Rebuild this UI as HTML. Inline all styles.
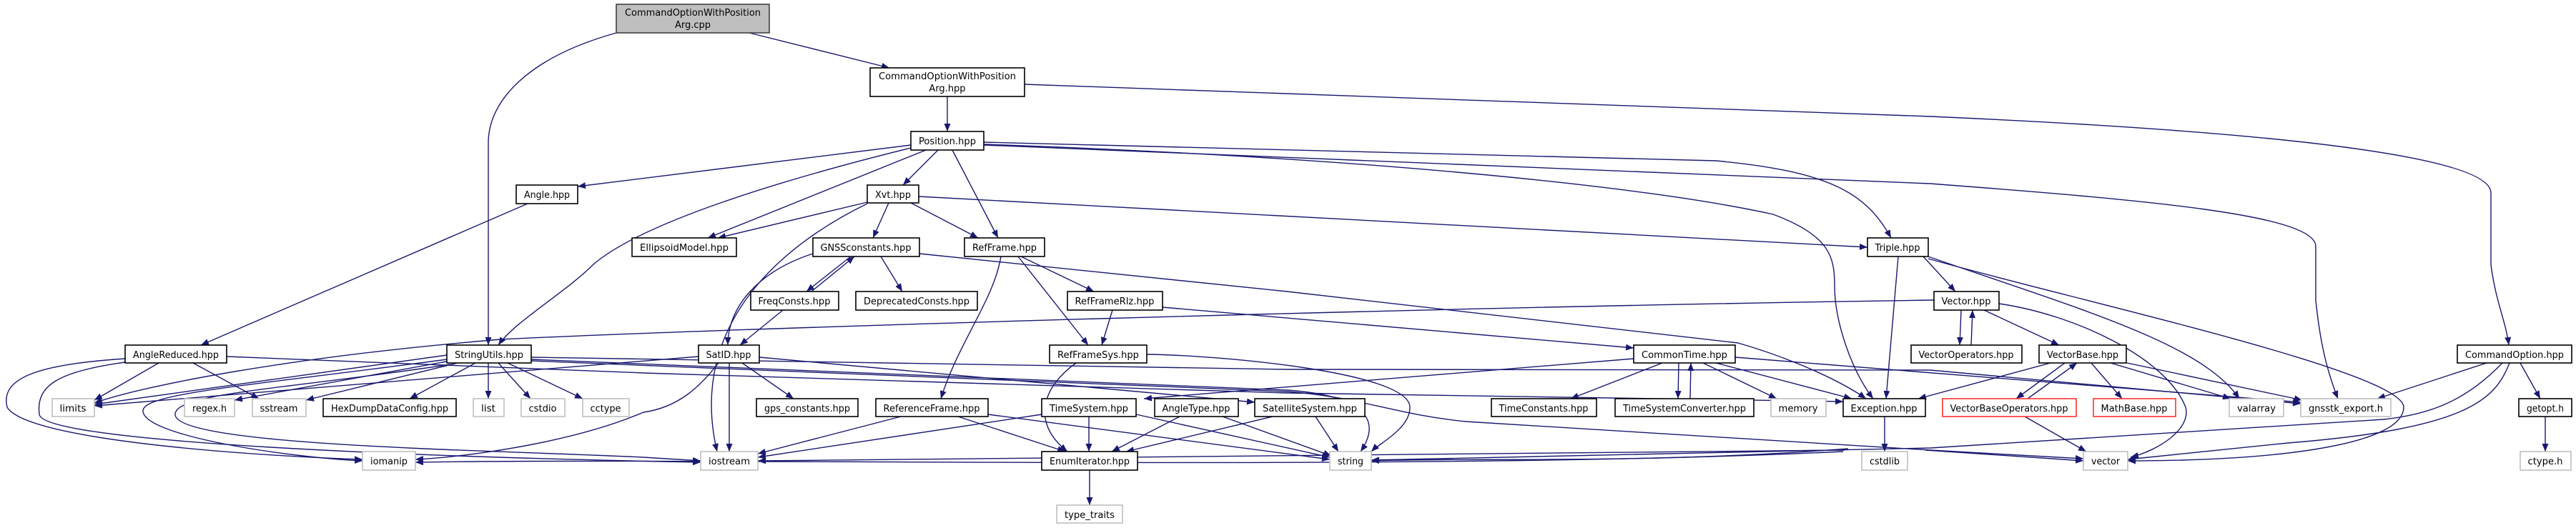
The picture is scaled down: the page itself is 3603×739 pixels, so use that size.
<!DOCTYPE html>
<html><head><meta charset="utf-8"><style>
html,body{margin:0;padding:0;background:#fff;width:3603px;height:739px;overflow:hidden}
svg{display:block}
text{font-family:"DejaVu Sans","Liberation Sans",sans-serif;font-size:13px;fill:#000;text-anchor:middle}
.e{fill:none;stroke:#191970;stroke-width:1.4;marker-end:url(#a)}
.n{fill:#fff;stroke:#000;stroke-width:1.6}
.g{fill:#fff;stroke:#bfbfbf;stroke-width:1.6}
.r{fill:#fff;stroke:#ff3030;stroke-width:1.6}
</style></head><body>
<svg width="3603" height="739" viewBox="0 0 3603 739" xmlns="http://www.w3.org/2000/svg">
<defs><marker id="a" markerUnits="userSpaceOnUse" markerWidth="11" markerHeight="9" refX="11" refY="4.5" orient="auto"><path d="M0,0 L11,4.5 L0,9 z" fill="#191970"/></marker></defs>
<g>
<path class="e" d="M1048,46 L1244,95"/>
<path class="e" d="M862,46 C740,80 683,140 683,200 L683,483"/>
<path class="e" d="M1325,135 L1325,184"/>
<path class="e" d="M1433,118 L2700,163 C3200,185 3484,220 3484,270 L3484,370 C3490,420 3505,450 3509,483"/>
<path class="e" d="M1274,203 L808,261"/>
<path class="e" d="M1274,207 C1100,250 900,310 830,370 C790,410 720,450 697,483"/>
<path class="e" d="M1295,210 L990,333"/>
<path class="e" d="M1312,210 L1263,259"/>
<path class="e" d="M1332,210 L1396,333"/>
<path class="e" d="M1376,199 L2400,225 C2560,240 2610,270 2645,333"/>
<path class="e" d="M1376,202 C1900,220 2300,260 2480,300 C2560,330 2566,360 2566,400 C2566,450 2590,520 2620,558"/>
<path class="e" d="M1376,203 L2700,257 C3000,280 3239,300 3239,345 L3239,420 C3245,480 3255,520 3270,558"/>
<path class="e" d="M1213,283 L1004,333"/>
<path class="e" d="M1243,284 L1221,333"/>
<path class="e" d="M1274,284 L1368,333"/>
<path class="e" d="M1285,275 L2612,346"/>
<path class="e" d="M1213,285 C1100,340 960,450 1003,632"/>
<path class="e" d="M1190,359 L1128,408"/>
<path class="e" d="M1135,408 L1195,359"/>
<path class="e" d="M1232,359 L1262,408"/>
<path class="e" d="M1137,355 C1060,380 1018,430 1018,483"/>
<path class="e" d="M1286,355 L1800,408 L2431,480 C2500,500 2570,530 2610,558"/>
<path class="e" d="M1428,359 L1530,408"/>
<path class="e" d="M1424,359 L1522,483"/>
<path class="e" d="M1400,359 C1390,420 1340,480 1316,558"/>
<path class="e" d="M1556,434 L1541,483"/>
<path class="e" d="M1626,430 L2285,487"/>
<path class="e" d="M1505,508 C1460,540 1440,590 1493,632"/>
<path class="e" d="M1604,496 C1700,497 1972,520 1972,570 C1972,600 1930,620 1918,632"/>
<path class="e" d="M1095,434 L1035,483"/>
<path class="e" d="M1020,508 L1020,632"/>
<path class="e" d="M1038,508 L1110,558"/>
<path class="e" d="M1005,508 C980,540 950,570 900,577 C800,620 650,640 581,643"/>
<path class="e" d="M1062,500 L1755,563"/>
<path class="e" d="M977,499 L132,568"/>
<path class="e" d="M625,497 L132,566"/>
<path class="e" d="M630,505 L328,560"/>
<path class="e" d="M640,508 L428,560"/>
<path class="e" d="M665,508 L573,558"/>
<path class="e" d="M683,508 L683,558"/>
<path class="e" d="M697,508 L742,558"/>
<path class="e" d="M710,508 L815,558"/>
<path class="e" d="M630,510 C400,545 245,550 245,580 C245,625 700,630 900,640 L980,645"/>
<path class="e" d="M625,503 C350,540 200,550 200,575 C200,610 400,640 507,645"/>
<path class="e" d="M175,502 C50,510 0,530 10,570 C40,620 400,640 507,643"/>
<path class="e" d="M175,507 C80,520 50,540 55,580 C60,620 600,640 980,647"/>
<path class="e" d="M222,508 L132,560"/>
<path class="e" d="M270,508 L362,558"/>
<path class="e" d="M738,285 L281,483"/>
<path class="e" d="M317,499 L900,522 L1800,550 L2578,562"/>
<path class="e" d="M743,500 L1800,517 L2700,518 L3218,565"/>
<path class="e" d="M743,505 L1800,548 C1900,555 1950,580 2050,590 L2700,630 L2914,642"/>
<path class="e" d="M743,503 L1800,546 C1930,555 1925,600 1903,632"/>
<path class="e" d="M2578,632 C2000,660 1000,640 581,647"/>
<path class="e" d="M2580,630 L1060,645"/>
<path class="e" d="M2585,628 C2300,650 2050,640 1918,645"/>
<path class="e" d="M2693,630 L2914,645"/>
<path class="e" d="M2636,583 L2636,632"/>
<path class="e" d="M1457,580 L1060,640"/>
<path class="e" d="M1523,583 L1523,632"/>
<path class="e" d="M1589,580 L1860,640"/>
<path class="e" d="M1650,583 L1555,632"/>
<path class="e" d="M1710,583 L1862,638"/>
<path class="e" d="M1780,583 L1575,632"/>
<path class="e" d="M1840,583 L1872,632"/>
<path class="e" d="M1260,583 L1060,635"/>
<path class="e" d="M1340,583 L1490,632"/>
<path class="e" d="M1382,580 L1860,643"/>
<path class="e" d="M1524,658 L1524,707"/>
<path class="e" d="M2325,508 L2197,558"/>
<path class="e" d="M2348,508 L2347,558"/>
<path class="e" d="M2364,558 L2365,508"/>
<path class="e" d="M2382,508 L2485,558"/>
<path class="e" d="M2400,508 L2590,558"/>
<path class="e" d="M2285,502 L1600,558"/>
<path class="e" d="M2427,500 L3218,563"/>
<path class="e" d="M2743,434 L2741,483"/>
<path class="e" d="M2757,483 L2759,434"/>
<path class="e" d="M2775,434 L2880,483"/>
<path class="e" d="M2796,425 C2900,440 3030,500 3057,570 C3065,600 3020,630 2980,640"/>
<path class="e" d="M2705,420 C2000,430 1000,460 700,475 C400,500 200,540 132,564"/>
<path class="e" d="M2690,359 L2735,408"/>
<path class="e" d="M2655,359 L2638,558"/>
<path class="e" d="M2697,359 C2900,430 3080,480 3132,558"/>
<path class="e" d="M2697,362 C2900,420 3362,520 3362,570 C3362,620 3200,645 2976,645"/>
<path class="e" d="M2888,508 L2820,558"/>
<path class="e" d="M2836,558 L2905,508"/>
<path class="e" d="M2925,508 L2968,558"/>
<path class="e" d="M2952,508 L3120,558"/>
<path class="e" d="M2975,508 L3220,560"/>
<path class="e" d="M2868,508 L2683,558"/>
<path class="e" d="M2832,583 L2918,632"/>
<path class="e" d="M3478,508 L3325,558"/>
<path class="e" d="M3525,508 L3553,558"/>
<path class="e" d="M3510,508 C3490,560 3450,600 3200,620 L2976,643"/>
<path class="e" d="M3500,508 C3450,560 3400,580 3334,587 L2700,627 L1918,644"/>
<path class="e" d="M3560,583 L3560,632"/>
</g>
<g>
<rect x="862" y="6" width="214" height="40" fill="#bfbfbf" stroke="#404040" stroke-width="1.6"/>
<text x="969" y="22" textLength="190" lengthAdjust="spacingAndGlyphs">CommandOptionWithPosition</text>
<text x="969" y="39">Arg.cpp</text>
<rect class="n" x="1217" y="95" width="216" height="40"/>
<text x="1325" y="111" textLength="192" lengthAdjust="spacingAndGlyphs">CommandOptionWithPosition</text>
<text x="1325" y="128">Arg.hpp</text>
</g>
<g id="nodes"></g>
<g>
<rect class="n" x="1274" y="184" width="102" height="26"/><text x="1325" y="202" textLength="80" lengthAdjust="spacingAndGlyphs">Position.hpp</text>
<rect class="n" x="722" y="259" width="86" height="26"/><text x="765" y="277" textLength="64" lengthAdjust="spacingAndGlyphs">Angle.hpp</text>
<rect class="n" x="1213" y="259" width="72" height="25"/><text x="1249" y="277" textLength="50" lengthAdjust="spacingAndGlyphs">Xvt.hpp</text>
<rect class="n" x="884" y="333" width="146" height="26"/><text x="957" y="351" textLength="124" lengthAdjust="spacingAndGlyphs">EllipsoidModel.hpp</text>
<rect class="n" x="1137" y="333" width="149" height="26"/><text x="1211" y="351" textLength="127" lengthAdjust="spacingAndGlyphs">GNSSconstants.hpp</text>
<rect class="n" x="1349" y="333" width="112" height="26"/><text x="1405" y="351" textLength="90" lengthAdjust="spacingAndGlyphs">RefFrame.hpp</text>
<rect class="n" x="2612" y="333" width="85" height="26"/><text x="2654" y="351" textLength="63" lengthAdjust="spacingAndGlyphs">Triple.hpp</text>
<rect class="n" x="1050" y="408" width="123" height="26"/><text x="1111" y="426" textLength="101" lengthAdjust="spacingAndGlyphs">FreqConsts.hpp</text>
<rect class="n" x="1197" y="408" width="170" height="26"/><text x="1282" y="426" textLength="148" lengthAdjust="spacingAndGlyphs">DeprecatedConsts.hpp</text>
<rect class="n" x="1493" y="408" width="133" height="26"/><text x="1559" y="426" textLength="111" lengthAdjust="spacingAndGlyphs">RefFrameRlz.hpp</text>
<rect class="n" x="2705" y="408" width="91" height="26"/><text x="2750" y="426" textLength="69" lengthAdjust="spacingAndGlyphs">Vector.hpp</text>
<rect class="n" x="175" y="483" width="142" height="25"/><text x="246" y="501" textLength="120" lengthAdjust="spacingAndGlyphs">AngleReduced.hpp</text>
<rect class="n" x="625" y="483" width="118" height="25"/><text x="684" y="501" textLength="96" lengthAdjust="spacingAndGlyphs">StringUtils.hpp</text>
<rect class="n" x="977" y="483" width="85" height="25"/><text x="1019" y="501" textLength="63" lengthAdjust="spacingAndGlyphs">SatID.hpp</text>
<rect class="n" x="1468" y="483" width="136" height="25"/><text x="1536" y="501" textLength="114" lengthAdjust="spacingAndGlyphs">RefFrameSys.hpp</text>
<rect class="n" x="2285" y="483" width="142" height="25"/><text x="2356" y="501" textLength="120" lengthAdjust="spacingAndGlyphs">CommonTime.hpp</text>
<rect class="n" x="2673" y="483" width="155" height="25"/><text x="2750" y="501" textLength="133" lengthAdjust="spacingAndGlyphs">VectorOperators.hpp</text>
<rect class="n" x="2852" y="483" width="122" height="25"/><text x="2913" y="501" textLength="100" lengthAdjust="spacingAndGlyphs">VectorBase.hpp</text>
<rect class="n" x="3437" y="483" width="160" height="25"/><text x="3517" y="501" textLength="138" lengthAdjust="spacingAndGlyphs">CommandOption.hpp</text>
<rect class="g" x="73" y="558" width="59" height="25"/><text x="102" y="576" textLength="37" lengthAdjust="spacingAndGlyphs">limits</text>
<rect class="g" x="258" y="558" width="70" height="25"/><text x="293" y="576" textLength="48" lengthAdjust="spacingAndGlyphs">regex.h</text>
<rect class="g" x="353" y="558" width="75" height="25"/><text x="390" y="576" textLength="53" lengthAdjust="spacingAndGlyphs">sstream</text>
<rect class="n" x="452" y="558" width="186" height="25"/><text x="545" y="576" textLength="164" lengthAdjust="spacingAndGlyphs">HexDumpDataConfig.hpp</text>
<rect class="g" x="662" y="558" width="43" height="25"/><text x="683" y="576" textLength="20" lengthAdjust="spacingAndGlyphs">list</text>
<rect class="g" x="729" y="558" width="61" height="25"/><text x="759" y="576" textLength="39" lengthAdjust="spacingAndGlyphs">cstdio</text>
<rect class="g" x="815" y="558" width="65" height="25"/><text x="847" y="576" textLength="43" lengthAdjust="spacingAndGlyphs">cctype</text>
<rect class="n" x="1058" y="558" width="142" height="25"/><text x="1129" y="576" textLength="120" lengthAdjust="spacingAndGlyphs">gps_constants.hpp</text>
<rect class="n" x="1225" y="558" width="157" height="25"/><text x="1303" y="576" textLength="135" lengthAdjust="spacingAndGlyphs">ReferenceFrame.hpp</text>
<rect class="n" x="1457" y="558" width="132" height="25"/><text x="1523" y="576" textLength="110" lengthAdjust="spacingAndGlyphs">TimeSystem.hpp</text>
<rect class="n" x="1615" y="558" width="117" height="25"/><text x="1673" y="576" textLength="95" lengthAdjust="spacingAndGlyphs">AngleType.hpp</text>
<rect class="n" x="1755" y="558" width="154" height="25"/><text x="1832" y="576" textLength="132" lengthAdjust="spacingAndGlyphs">SatelliteSystem.hpp</text>
<rect class="n" x="2086" y="558" width="147" height="25"/><text x="2159" y="576" textLength="125" lengthAdjust="spacingAndGlyphs">TimeConstants.hpp</text>
<rect class="n" x="2259" y="558" width="194" height="25"/><text x="2356" y="576" textLength="172" lengthAdjust="spacingAndGlyphs">TimeSystemConverter.hpp</text>
<rect class="g" x="2477" y="558" width="77" height="25"/><text x="2515" y="576" textLength="55" lengthAdjust="spacingAndGlyphs">memory</text>
<rect class="n" x="2578" y="558" width="115" height="25"/><text x="2635" y="576" textLength="93" lengthAdjust="spacingAndGlyphs">Exception.hpp</text>
<rect class="r" x="2717" y="558" width="187" height="25"/><text x="2810" y="576" textLength="165" lengthAdjust="spacingAndGlyphs">VectorBaseOperators.hpp</text>
<rect class="r" x="2928" y="558" width="115" height="25"/><text x="2985" y="576" textLength="93" lengthAdjust="spacingAndGlyphs">MathBase.hpp</text>
<rect class="g" x="3118" y="558" width="76" height="25"/><text x="3156" y="576" textLength="54" lengthAdjust="spacingAndGlyphs">valarray</text>
<rect class="g" x="3218" y="558" width="126" height="25"/><text x="3281" y="576" textLength="104" lengthAdjust="spacingAndGlyphs">gnsstk_export.h</text>
<rect class="n" x="3523" y="558" width="74" height="25"/><text x="3560" y="576" textLength="52" lengthAdjust="spacingAndGlyphs">getopt.h</text>
<rect class="g" x="507" y="632" width="74" height="26"/><text x="544" y="650" textLength="52" lengthAdjust="spacingAndGlyphs">iomanip</text>
<rect class="g" x="980" y="632" width="80" height="26"/><text x="1020" y="650" textLength="58" lengthAdjust="spacingAndGlyphs">iostream</text>
<rect class="n" x="1457" y="632" width="134" height="26"/><text x="1524" y="650" textLength="112" lengthAdjust="spacingAndGlyphs">EnumIterator.hpp</text>
<rect class="g" x="1860" y="632" width="58" height="26"/><text x="1889" y="650" textLength="36" lengthAdjust="spacingAndGlyphs">string</text>
<rect class="g" x="2604" y="632" width="64" height="26"/><text x="2636" y="650" textLength="42" lengthAdjust="spacingAndGlyphs">cstdlib</text>
<rect class="g" x="2914" y="632" width="62" height="26"/><text x="2945" y="650" textLength="40" lengthAdjust="spacingAndGlyphs">vector</text>
<rect class="g" x="3525" y="632" width="71" height="26"/><text x="3560" y="650" textLength="49" lengthAdjust="spacingAndGlyphs">ctype.h</text>
<rect class="g" x="1478" y="707" width="92" height="25"/><text x="1524" y="725" textLength="70" lengthAdjust="spacingAndGlyphs">type_traits</text>
</g>
</svg>
</body></html>
